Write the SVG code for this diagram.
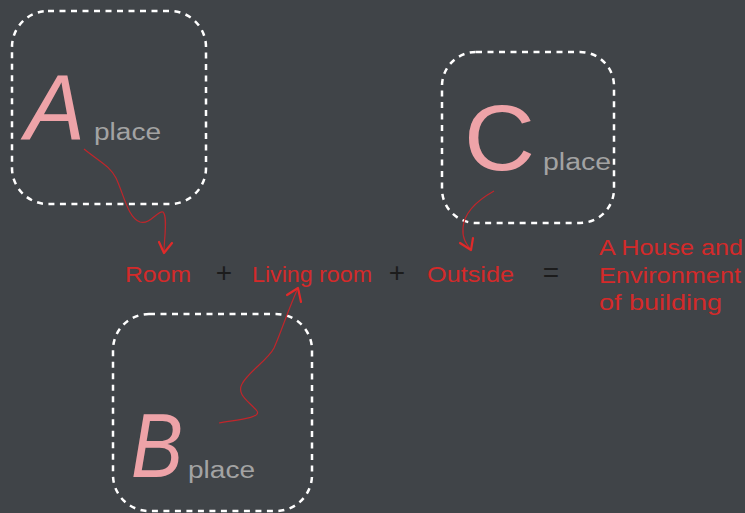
<svg xmlns="http://www.w3.org/2000/svg" width="745" height="513" viewBox="0 0 745 513">
<style>
.box{fill:none;stroke:#ffffff;stroke-width:2.5;stroke-dasharray:6 5.5}
.big{font-family:"Liberation Sans",Arial,sans-serif;fill:#eea3a8}
.pl{font-family:"Liberation Sans",Arial,sans-serif;fill:#a3a3a3;font-size:23px}
.lbl{font-family:"Liberation Sans",Arial,sans-serif;fill:#d42a2a;font-size:22px}
.op{font-family:"Liberation Sans",Arial,sans-serif;fill:#1c1c1c;font-size:28px;text-anchor:middle}
.cn{fill:none;stroke:#c0262b;stroke-width:1.2}
.ah{fill:none;stroke:#e02a2a;stroke-width:2.2;stroke-linecap:round;stroke-linejoin:round}
</style>
<rect width="745" height="513" fill="#404448"/>
<g id="nodeA">
<rect class="box" x="12" y="11" width="194" height="193" rx="36"/>
<text class="big" x="25" y="140" font-size="92" font-style="italic" textLength="60" lengthAdjust="spacingAndGlyphs">A</text>
<text class="pl" x="94" y="140" textLength="67" lengthAdjust="spacingAndGlyphs">place</text>
</g>
<g id="nodeB">
<rect class="box" x="113" y="314" width="199" height="197" rx="36"/>
<text class="big" x="131" y="477" font-size="90" font-style="italic" textLength="52" lengthAdjust="spacingAndGlyphs">B</text>
<text class="pl" x="188" y="478" textLength="67" lengthAdjust="spacingAndGlyphs">place</text>
</g>
<g id="nodeC">
<rect class="box" x="442" y="52" width="172" height="171" rx="34"/>
<text class="big" x="464" y="170" font-size="92" textLength="71" lengthAdjust="spacingAndGlyphs">C</text>
<text class="pl" x="543" y="170" textLength="68" lengthAdjust="spacingAndGlyphs">place</text>
</g>
<g id="labels">
<text class="lbl" x="125" y="282" textLength="66" lengthAdjust="spacingAndGlyphs">Room</text>
<text class="op" x="224" y="282">+</text>
<text class="lbl" x="252" y="282" textLength="120" lengthAdjust="spacingAndGlyphs">Living room</text>
<text class="op" x="397" y="282">+</text>
<text class="lbl" x="427" y="282" textLength="87" lengthAdjust="spacingAndGlyphs">Outside</text>
<text class="op" x="551" y="282">=</text>
<text class="lbl" x="599" y="255" textLength="144" lengthAdjust="spacingAndGlyphs">A House and</text>
<text class="lbl" x="599" y="283" textLength="142" lengthAdjust="spacingAndGlyphs">Environment</text>
<text class="lbl" x="599" y="310" textLength="123" lengthAdjust="spacingAndGlyphs">of building</text>
</g>
<g id="connectors">
<path class="cn" d="M84,149 C100,162 110,166 116,178 C124,195 128,218 140,222 C150,225 158,210 163,212 C168,216 164,240 164,252"/>
<path class="ah" d="M159,242 L164,253 L172,243"/>
<path class="cn" d="M219,423 C235,420 262,418 257,411 C250,402 236,395 242,384 C248,372 268,360 274,348 C282,330 288,310 298,288"/>
<path class="ah" d="M287,295 L298,288 L301,302"/>
<path class="cn" d="M494,191 C478,200 464,212 463,228 C462,240 468,246 471,250"/>
<path class="ah" d="M460,243 L471,250 L473,238"/>
</g>
</svg>
